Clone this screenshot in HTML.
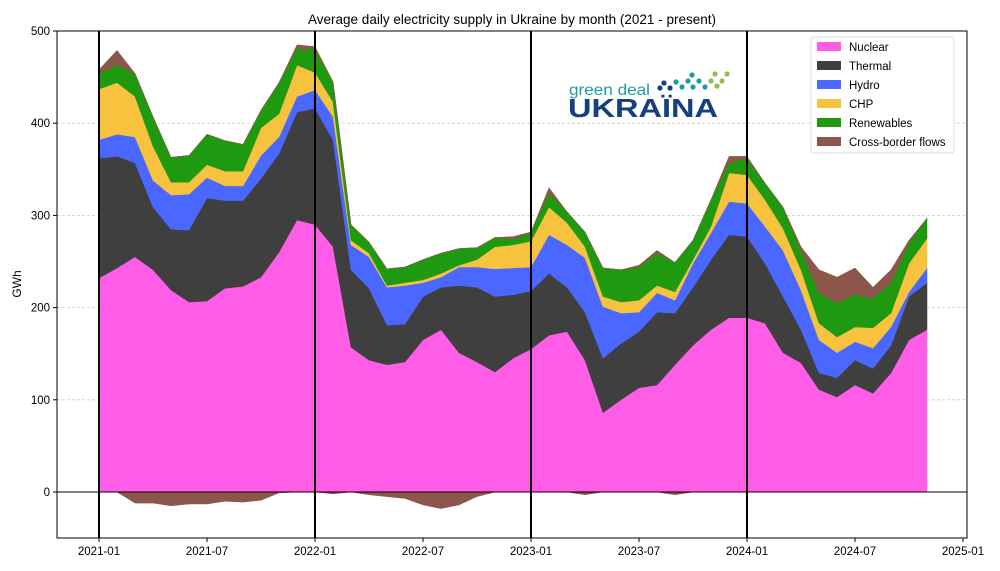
<!DOCTYPE html>
<html><head><meta charset="utf-8"><style>
body{margin:0;background:#fff;}
svg{display:block;font-family:"Liberation Sans",sans-serif;}
</style></head><body>
<svg id="chart" width="1000" height="571" viewBox="0 0 1000 571">
<rect x="0" y="0" width="1000" height="571" fill="#fff"/>
<text x="512" y="24" text-anchor="middle" font-size="13.5" fill="#000">Average daily electricity supply in Ukraine by month (2021 - present)</text>
<g id="grid"></g>
<g id="areas"></g>
<g id="overlay"></g>
<g id="axes"></g>
<g>
<text x="569" y="95" font-size="16" fill="#1e9aa6" textLength="81" lengthAdjust="spacingAndGlyphs">green deal</text>
<text x="568" y="117" font-size="26" font-weight="bold" fill="#163f7e" textLength="150" lengthAdjust="spacingAndGlyphs">UKRAÏNA</text>
<g id="dots"></g>
</g>
<g>
<rect x="811" y="37" width="143" height="116" rx="3" fill="#fff" stroke="#ddd"/>
<g id="legend"></g>
</g>
</svg>
<script>
const months = ["2021-01","2021-02","2021-03","2021-04","2021-05","2021-06","2021-07","2021-08","2021-09","2021-10","2021-11","2021-12","2022-01","2022-02","2022-03","2022-04","2022-05","2022-06","2022-07","2022-08","2022-09","2022-10","2022-11","2022-12","2023-01","2023-02","2023-03","2023-04","2023-05","2023-06","2023-07","2023-08","2023-09","2023-10","2023-11","2023-12","2024-01","2024-02","2024-03","2024-04","2024-05","2024-06","2024-07","2024-08","2024-09","2024-10","2024-11"];
const nuclear = [232,243,255,241,219,206,207,221,223,233,260,295,290,266,157,143,138,141,165,176,151,141,130,145,155,170,174,143,86,100,113,116,138,159,176,189,189,183,151,140,111,103,116,107,129,165,176];
const thermal = [130,121,102,68,66,78,112,95,93,107,107,117,126,116,84,78,43,41,47,46,73,81,82,69,63,67,48,52,59,61,61,79,56,63,76,90,88,65,61,36,18,21,27,27,30,47,51];
const hydro = [20,24,28,29,37,39,22,16,16,25,18,17,20,25,27,34,41,42,15,11,20,22,30,29,26,42,46,59,56,33,21,21,14,26,29,36,36,40,50,43,36,27,20,22,20,5,16];
const chp = [55,56,44,37,14,13,14,16,16,30,25,34,19,16,5,4,2,3,3,4,2,8,24,25,28,30,24,12,11,12,13,8,9,4,7,31,31,29,24,22,18,17,16,22,15,31,32];
const renewables = [17,19,25,32,27,29,33,33,29,19,34,18,25,22,17,12,18,17,22,22,18,13,10,6,10,15,12,16,31,35,36,35,32,21,29,11,18,18,23,21,33,37,35,32,33,22,22];
const crossBorder = [4,16,-12,-12,-15,-13,-13,-10,-11,-9,-1,4,3,-2,0,-3,-5,-7,-14,-18,-14,-5,0,3,0,6,0,-3,0,0,2,3,-3,0,0,7,2,0,0,4,25,28,29,12,14,3,0];
const yTicks = [0,100,200,300,400,500];
const xTickLabels = ["2021-01","2021-07","2022-01","2022-07","2023-01","2023-07","2024-01","2024-07","2025-01"];
const yearLines = ["2021-01","2022-01","2023-01","2024-01"];

const NS="http://www.w3.org/2000/svg";
const L=57,R=967,T=31,B=538;
function mIndex(s){const [y,m]=s.split("-").map(Number);return (y-2021)*12+(m-1);}
function xs(i){return 99+18*i;}
function ys(v){return 492-(v)*(461/500);}
function mk(tag,attrs,parent){const e=document.createElementNS(NS,tag);for(const k in attrs)e.setAttribute(k,attrs[k]);parent.appendChild(e);return e;}

const grid=document.getElementById("grid"),areas=document.getElementById("areas"),overlay=document.getElementById("overlay"),axes=document.getElementById("axes");
yTicks.forEach(v=>{if(v===0)return;const l=mk("line",{x1:L,x2:R,y1:ys(v),y2:ys(v),stroke:"#ccc","stroke-dasharray":"3,2","stroke-width":0.8},grid);

});

const series=[
 {name:"Nuclear",vals:nuclear,color:"#ff5ce8",id:"nuclear"},
 {name:"Thermal",vals:thermal,color:"#3f3f3f",id:"thermal"},
 {name:"Hydro",vals:hydro,color:"#4a68ff",id:"hydro"},
 {name:"CHP",vals:chp,color:"#f7c23e",id:"chp"},
 {name:"Renewables",vals:renewables,color:"#1f9a10",id:"renewables"},
];
let base=months.map(()=>0);
function band(lo,hi,color,name){
 let d="M"+hi.map((v,i)=>xs(i)+","+ys(v)).join(" L");
 for(let i=lo.length-1;i>=0;i--)d+=" L"+xs(i)+","+ys(lo[i]);
 d+=" Z";
 const p=mk("path",{d:d,fill:color,stroke:color,"stroke-width":0.5},areas);
 
 
}
series.forEach(s=>{const top=base.map((b,i)=>b+s.vals[i]);band(base,top,s.color,s.id+"-area");base=top;});
band(base,base.map((b,i)=>b+Math.max(crossBorder[i],0)),"#8c564b","cross-border-positive-area");
band(months.map(()=>0),crossBorder.map(c=>Math.min(c,0)),"#8c564b","cross-border-negative-area");

const zl=mk("line",{x1:L,x2:R,y1:ys(0),y2:ys(0),stroke:"#000","stroke-width":1},overlay);


yearLines.forEach(m=>{const x=xs(mIndex(m));const l=mk("line",{x1:x,x2:x,y1:T,y2:B,stroke:"#000","stroke-width":2},overlay);

});

const frame=mk("rect",{x:L,y:T,width:R-L,height:B-T,fill:"none",stroke:"#000","stroke-width":1},axes);


yTicks.forEach(v=>{const y=ys(v);mk("line",{x1:L-4,x2:L,y1:y,y2:y,stroke:"#000"},axes);
const t=mk("text",{x:L-7,y:y+4,"text-anchor":"end","font-size":11.5},axes);t.textContent=v;

});
xTickLabels.forEach(m=>{const x=xs(mIndex(m));mk("line",{x1:x,x2:x,y1:B,y2:B+4,stroke:"#000"},axes);
const t=mk("text",{x:x,y:B+17,"text-anchor":"middle","font-size":11.5},axes);t.textContent=m;

});
const yl=mk("text",{x:0,y:0,"text-anchor":"middle","font-size":12,transform:"translate(21,284) rotate(-90)"},axes);yl.textContent="GWh";



const leg=document.getElementById("legend");
const legItems=series.map(s=>[s.name,s.color]).concat([["Cross-border flows","#8c564b"]]);
legItems.forEach((it,k)=>{const y=47+k*19;
const g=mk("g",{},leg);


mk("rect",{x:817,y:y-5,width:24,height:9,fill:it[1]},g);
const t=mk("text",{x:849,y:y+4,"font-size":11.5},g);t.textContent=it[0];});

const dots=document.getElementById("dots");
[[660,88,"#163f7e"],[670,88,"#163f7e"],[682,87,"#1e9aa6"],[693,87,"#1e9aa6"],[705,87,"#1e9aa6"],[717,86,"#8cc152"],
 [664,83,"#163f7e"],[676,82,"#1e9aa6"],[688,81,"#1e9aa6"],[699,81,"#1e9aa6"],[711,81,"#8cc152"],[722,81,"#8cc152"],
 [692,75,"#1e9aa6"],[715,74,"#8cc152"],[727,74,"#8cc152"]].forEach(d=>{mk("circle",{cx:d[0],cy:d[1],r:2.6,fill:d[2]},dots);});
</script>
</body></html>
